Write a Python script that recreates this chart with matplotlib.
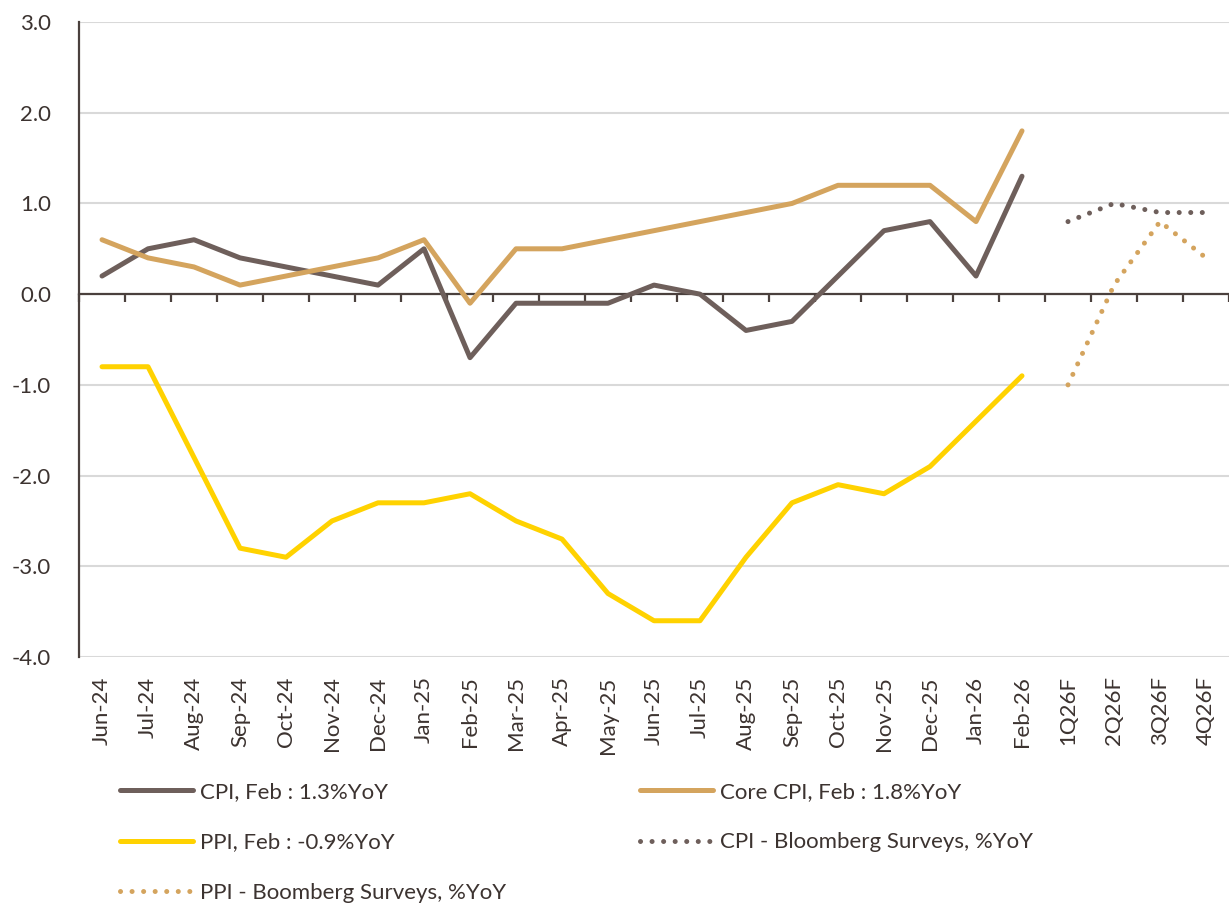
import numpy as np
import matplotlib.pyplot as plt

plt.rcParams['font.family'] = ['Lato', 'DejaVu Sans']

months = ["Jun-24", "Jul-24", "Aug-24", "Sep-24", "Oct-24", "Nov-24", "Dec-24",
          "Jan-25", "Feb-25", "Mar-25", "Apr-25", "May-25", "Jun-25", "Jul-25",
          "Aug-25", "Sep-25", "Oct-25", "Nov-25", "Dec-25", "Jan-26", "Feb-26"]
quarters = ["1Q26F", "2Q26F", "3Q26F", "4Q26F"]

cpi = [0.2, 0.5, 0.6, 0.4, 0.3, 0.2, 0.1, 0.5, -0.7, -0.1, -0.1, -0.1, 0.1, 0.0,
       -0.4, -0.3, 0.2, 0.7, 0.8, 0.2, 1.3]
core_cpi = [0.6, 0.4, 0.3, 0.1, 0.2, 0.3, 0.4, 0.6, -0.1, 0.5, 0.5, 0.6, 0.7, 0.8,
            0.9, 1.0, 1.2, 1.2, 1.2, 0.8, 1.8]
ppi = [-0.8, -0.8, -1.8, -2.8, -2.9, -2.5, -2.3, -2.3, -2.2, -2.5, -2.7, -3.3, -3.6,
       -3.6, -2.9, -2.3, -2.1, -2.2, -1.9, -1.4, -0.9]
cpi_survey = [0.8, 1.0, 0.9, 0.9]
ppi_survey = [-1.0, 0.1, 0.8, 0.4]

BROWN = "#6E5F5B"
GOLD = "#D4A45E"
YELLOW = "#FFD200"
AXIS = "#4A403D"
TEXT = "#3C3330"
GRID = "#D9D9D9"

labels = months + quarters
x_m = np.arange(len(months))
x_q = np.arange(len(months), len(labels))

fig = plt.figure(figsize=(12.29, 9.06), dpi=100)
ax = fig.add_axes([0.0643, 0.2748, 0.9357, 0.7009])

lw = 3.6
dots = (0, (0.01, 2.3))
(l_ppi,) = ax.plot(x_m, ppi, color=YELLOW, lw=lw, solid_capstyle="round",
                   label="PPI, Feb : -0.9%YoY")
(l_cpi,) = ax.plot(x_m, cpi, color=BROWN, lw=lw, solid_capstyle="round",
                   label="CPI, Feb : 1.3%YoY")
(l_core,) = ax.plot(x_m, core_cpi, color=GOLD, lw=lw, solid_capstyle="round",
                    label="Core CPI, Feb : 1.8%YoY")
(l_cpi_s,) = ax.plot(x_q, cpi_survey, color=BROWN, lw=lw, linestyle=dots,
                     dash_capstyle="round", label="CPI - Bloomberg Surveys, %YoY")
(l_ppi_s,) = ax.plot(x_q, ppi_survey, color=GOLD, lw=lw, linestyle=dots,
                     dash_capstyle="round", label="PPI - Boomberg Surveys, %YoY")

ax.set_xlim(-0.5, 24.34)
ax.set_ylim(-4, 3)
ax.set_yticks(range(-4, 4))
ax.yaxis.set_major_formatter(lambda v, p: f"{v:.1f}")
ax.tick_params(axis="y", length=0, pad=20, labelsize=16, labelcolor=TEXT)
ax.grid(axis="y", color=GRID, lw=1.5)
ax.set_axisbelow(True)

for s in ["top", "right"]:
    ax.spines[s].set_visible(False)
ax.spines["left"].set_color(AXIS)
ax.spines["left"].set_linewidth(1.6)
ax.spines["bottom"].set_position(("data", 0))
ax.spines["bottom"].set_color(AXIS)
ax.spines["bottom"].set_linewidth(1.6)
ax.spines["bottom"].set_zorder(1.5)

# boundary ticks on the zero line
ax.set_xticks(np.arange(-0.5, len(labels), 1))
ax.tick_params(axis="x", length=6, width=1.6, color=AXIS, direction="out",
               labelbottom=False)

# category labels at the bottom
sec = ax.secondary_xaxis("bottom")
sec.set_xticks(np.arange(len(labels)), labels=labels)
sec.tick_params(length=0, pad=14, labelrotation=90, labelsize=16, labelcolor=TEXT)
sec.spines["bottom"].set_visible(False)

common = dict(loc="upper left", frameon=False, fontsize=16, handlelength=3.3,
              handletextpad=0.3, labelspacing=1.37, borderpad=0, borderaxespad=0,
              labelcolor=TEXT)
fig.legend(handles=[l_cpi, l_ppi, l_ppi_s], bbox_to_anchor=(0.0976, 0.137), **common)
fig.legend(handles=[l_core, l_cpi_s], bbox_to_anchor=(0.5207, 0.137), **common)

fig.savefig("out.png", dpi=100)
